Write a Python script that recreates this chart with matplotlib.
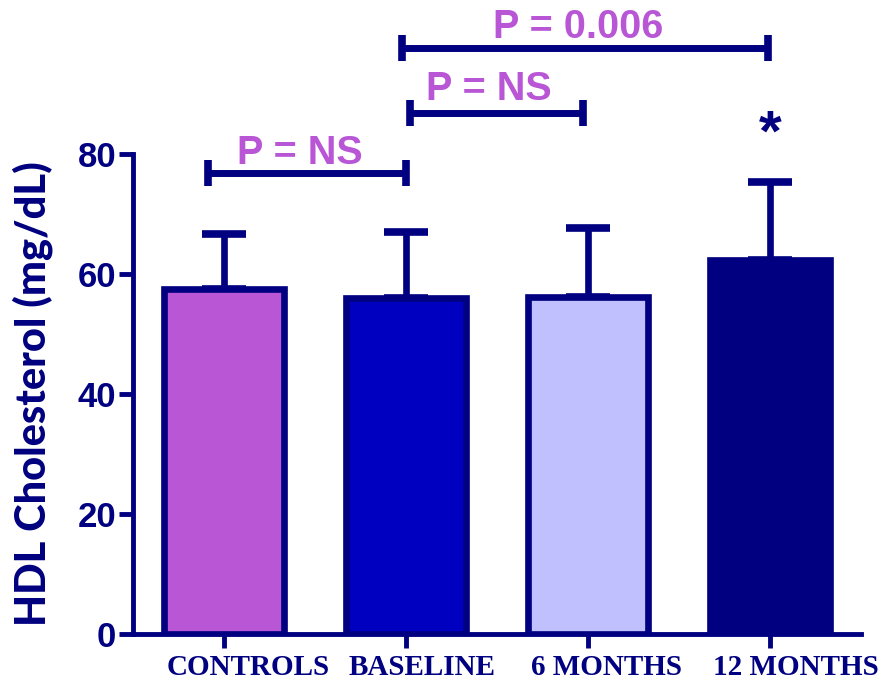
import matplotlib.pyplot as plt
import matplotlib.transforms as mtransforms
import numpy as np

# data
groups = ['CONTROLS', 'BASELINE', '6 MONTHS', '12 MONTHS']
means = [57.5, 56.0, 56.2, 62.3]
sd_up = [9.2, 11.0, 11.5, 13.0]
colors = ['#B856D6', '#0000C0', '#C0C0FF', '#000080']

# comparisons: (left x, right x, bracket y, text y, label)
comp_left = [-0.09, 1.02, 0.98]
comp_right = [1.0, 1.97, 2.99]
comp_y = [76.8, 86.8, 97.7]
comp_text_y = [80.2, 90.8, 101.2]
comp_labels = ['P = NS', 'P = NS', 'P = 0.006']

navy = '#000080'
pink = '#B856D6'

fig = plt.figure(figsize=(8.89, 6.84), dpi=100)
ax = fig.add_axes([133 / 889, 50 / 684, 728 / 889, 480 / 684])

x = np.arange(len(groups))
ax.bar(x, means, width=0.66, color=colors, edgecolor=navy, linewidth=4.8, zorder=2)
ax.errorbar(x, means, yerr=[np.zeros(len(means)), sd_up], fmt='none',
            ecolor=navy, elinewidth=4.8, capsize=16, capthick=5.5, zorder=1,
            clip_on=False)

for l, r, y, ty, lab in zip(comp_left, comp_right, comp_y, comp_text_y, comp_labels):
    ax.plot([l, r], [y, y], color=navy, lw=5, clip_on=False, solid_capstyle='butt')
    for xx in (l, r):
        ax.plot([xx, xx], [y - 2.2, y + 2.2], color=navy, lw=5.5, clip_on=False,
                solid_capstyle='butt')
    ax.text((l + r) / 2 - 0.04, ty, lab, ha='center', va='center', color=pink,
            fontsize=28.5, fontweight='bold', family='Liberation Sans')

ax.text(3, 83.0, '*', ha='center', va='center', color=navy, fontsize=42,
        fontweight='bold', family='Liberation Sans')

ax.set_xlim(-0.5, 3.5)
ax.set_ylim(0, 80)
ax.set_yticks([0, 20, 40, 60, 80])
ax.set_xticks(x)
ax.set_xticklabels([])
# category labels start a fixed distance left of each tick in the original
lab_tr = mtransforms.offset_copy(ax.get_xaxis_transform(), fig=fig,
                                 x=-57, y=-41, units='dots')
for xi, g in zip(x, groups):
    ax.text(xi, 0, g, transform=lab_tr, ha='left', va='baseline',
            family='Liberation Serif', fontweight='bold', fontsize=21,
            color=navy)
for t in ax.get_yticklabels():
    t.set_family('Liberation Sans')
    t.set_fontweight('bold')
    t.set_fontsize(25)
    t.set_color(navy)
ax.tick_params(axis='both', color=navy, width=3.5, length=10)
ax.tick_params(axis='y', pad=2)

for s in ['top', 'right']:
    ax.spines[s].set_visible(False)
for s in ['left', 'bottom']:
    ax.spines[s].set_color(navy)
    ax.spines[s].set_linewidth(3.5)

ax.set_ylabel('HDL Cholesterol (mg/dL)', family='Lato', fontweight='black',
              fontsize=30, color=navy, labelpad=18)

fig.savefig('out.png', dpi=100)
